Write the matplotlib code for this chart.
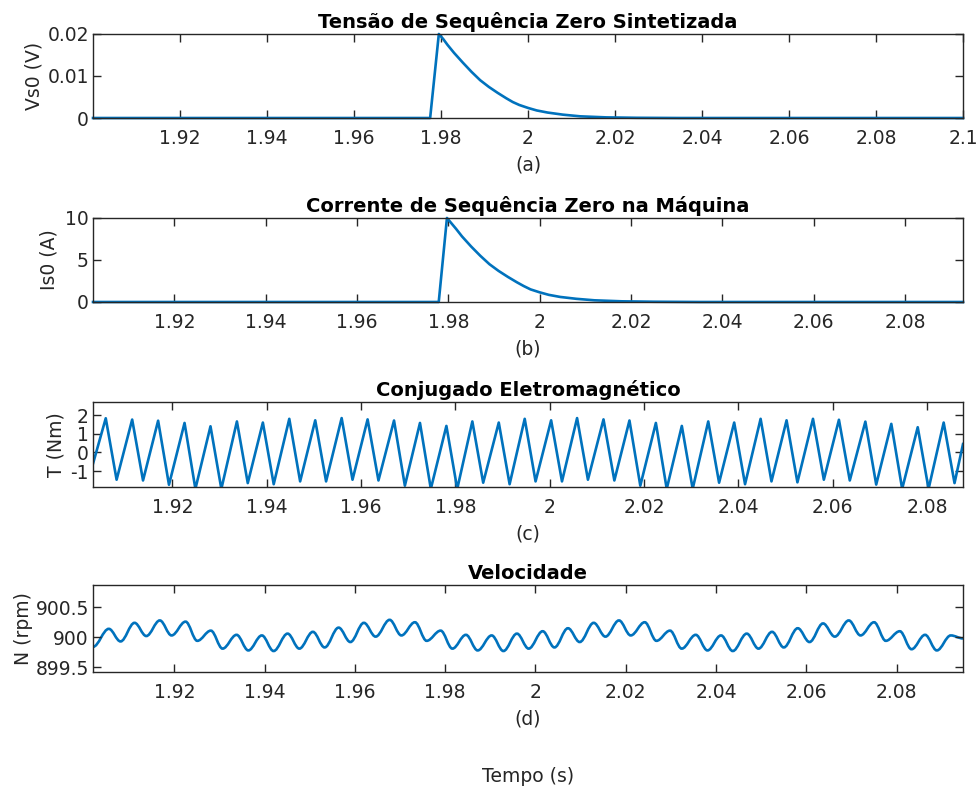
import numpy as np
import matplotlib
matplotlib.use('Agg')
import matplotlib.pyplot as plt
from matplotlib.path import Path
from matplotlib.patches import PathPatch
from matplotlib.ticker import FuncFormatter

# (a) zero-sequence voltage
vs0_t = [1.9, 1.9775, 1.9795, 1.9805, 1.9815, 1.983, 1.985, 1.987, 1.989, 1.991,
         1.993, 1.995, 1.9965, 1.998, 2.0, 2.002, 2.0045, 2.008, 2.012, 2.018,
         2.025, 2.035, 2.05, 2.1]
vs0_v = [0, 0, 0.02, 0.0188, 0.0174, 0.0155, 0.0132, 0.0110, 0.0090, 0.0074,
         0.0060, 0.0047, 0.0038, 0.0031, 0.0024, 0.0018, 0.0013, 0.0008, 0.0004, 0.00015,
         0.00005, 0, 0, 0]

# (b) zero-sequence current
is0_t = [1.9022, 1.9779, 1.9797, 1.9807, 1.9817, 1.983, 1.985, 1.987, 1.989, 1.991,
         1.993, 1.995, 1.9965, 1.998, 2.0, 2.002, 2.0045, 2.008, 2.012, 2.018,
         2.025, 2.035, 2.05, 2.0927]
is0_v = [0, 0, 10, 9.35, 8.7, 7.8, 6.6, 5.5, 4.5, 3.7,
         3.0, 2.35, 1.9, 1.5, 1.15, 0.85, 0.6, 0.38, 0.2, 0.08,
         0.03, 0, 0, 0]

# (c) torque: peaks and troughs of the sawtooth
torque_start = (1.9032, -0.60)
torque_end = (2.0876, 0.45)
torque_peak_t = [1.9059, 1.9115, 1.9170, 1.9226, 1.9281, 1.9337, 1.9392, 1.9448, 1.9503,
                 1.9559, 1.9614, 1.9670, 1.9725, 1.9781, 1.9836, 1.9892, 1.9947, 2.0003,
                 2.0058, 2.0114, 2.0169, 2.0225, 2.0280, 2.0336, 2.0391, 2.0447, 2.0502,
                 2.0558, 2.0613, 2.0669, 2.0724, 2.0780, 2.0835]
torque_peak_v = [1.83, 1.76, 1.70, 1.58, 1.40, 1.66, 1.60, 1.80, 1.72,
                 1.84, 1.77, 1.71, 1.58, 1.42, 1.66, 1.60, 1.80, 1.72,
                 1.84, 1.77, 1.71, 1.58, 1.42, 1.66, 1.60, 1.80, 1.72,
                 1.80, 1.75, 1.65, 1.53, 1.35, 1.60]
torque_trough_t = [1.9082, 1.9138, 1.9193, 1.9249, 1.9304, 1.9360, 1.9415, 1.9471, 1.9526,
                   1.9582, 1.9637, 1.9693, 1.9748, 1.9804, 1.9859, 1.9915, 1.9970, 2.0026,
                   2.0081, 2.0137, 2.0192, 2.0248, 2.0303, 2.0359, 2.0414, 2.0470, 2.0525,
                   2.0581, 2.0636, 2.0692, 2.0747, 2.0803, 2.0858]
torque_trough_v = [-1.46, -1.50, -1.73, -1.95, -1.95, -1.64, -1.70, -1.55, -1.55,
                   -1.46, -1.50, -1.78, -1.95, -1.95, -1.62, -1.70, -1.55, -1.55,
                   -1.46, -1.50, -1.78, -1.95, -1.95, -1.62, -1.70, -1.55, -1.60,
                   -1.46, -1.50, -1.72, -1.95, -1.95, -1.64]

# (d) speed: ripple maxima and minima
speed_start = (1.9020, 899.84)
speed_end = (2.0947, 899.98)
speed_peak_t = [1.9055, 1.9112, 1.9168, 1.9225, 1.9281, 1.9338, 1.9394, 1.9451, 1.9507,
                1.9564, 1.9620, 1.9677, 1.9733, 1.9790, 1.9846, 1.9903, 1.9959, 2.0016,
                2.0072, 2.0129, 2.0185, 2.0242, 2.0298, 2.0355, 2.0411, 2.0468, 2.0524,
                2.0581, 2.0637, 2.0694, 2.0750, 2.0807, 2.0863, 2.0920]
speed_peak_v = [900.14, 900.24, 900.28, 900.26, 900.11, 900.04, 900.03, 900.06, 900.09,
                900.16, 900.24, 900.29, 900.25, 900.11, 900.04, 900.03, 900.06, 900.10,
                900.15, 900.24, 900.28, 900.25, 900.11, 900.04, 900.03, 900.06, 900.09,
                900.15, 900.23, 900.28, 900.25, 900.10, 900.04, 900.03]
speed_trough_t = [1.9081, 1.9138, 1.9194, 1.9251, 1.9307, 1.9364, 1.9420, 1.9477, 1.9533,
                  1.9590, 1.9646, 1.9703, 1.9759, 1.9816, 1.9872, 1.9929, 1.9985, 2.0042,
                  2.0098, 2.0155, 2.0211, 2.0268, 2.0324, 2.0381, 2.0437, 2.0494, 2.0550,
                  2.0607, 2.0663, 2.0720, 2.0776, 2.0833, 2.0889]
speed_trough_v = [899.93, 900.02, 900.03, 899.94, 899.81, 899.78, 899.77, 899.81, 899.83,
                  899.92, 900.01, 900.03, 899.94, 899.81, 899.78, 899.77, 899.81, 899.83,
                  899.92, 900.01, 900.03, 899.94, 899.81, 899.78, 899.77, 899.81, 899.83,
                  899.92, 900.01, 900.03, 899.94, 899.80, 899.78]

titles = ['Tensão de Sequência Zero Sintetizada', 'Corrente de Sequência Zero na Máquina',
          'Conjugado Eletromagnético', 'Velocidade']
ylabels = ['Vs0 (V)', 'Is0 (A)', 'T (Nm)', 'N (rpm)']
sublabels = ['(a)', '(b)', '(c)', '(d)']
xlims = [(1.9, 2.1), (1.9022, 2.0927), (1.9032, 2.0876), (1.9020, 2.0947)]
ylims = [(0, 0.02), (0, 10), (-1.85, 2.7), (899.42, 900.87)]
yticks = [[0, 0.01, 0.02], [0, 5, 10], [-1, 0, 1, 2], [899.5, 900, 900.5]]
xticks_a = [1.92, 1.94, 1.96, 1.98, 2.0, 2.02, 2.04, 2.06, 2.08, 2.1]
xticks = [1.92, 1.94, 1.96, 1.98, 2.0, 2.02, 2.04, 2.06, 2.08]

blue = '#0072BD'
dark = '#262626'
fs = 13.5
lw = 1.9
ylabel_x = [-0.0564, -0.0391, -0.0311, -0.069]


def interleave(start, pk_t, pk_v, tr_t, tr_v, end):
    n = len(pk_t) + len(tr_t)
    t = np.empty(n)
    v = np.empty(n)
    t[0::2] = pk_t
    t[1::2] = tr_t
    v[0::2] = pk_v
    v[1::2] = tr_v
    t = np.concatenate([[start[0]], t, [end[0]]])
    v = np.concatenate([[start[1]], v, [end[1]]])
    return t, v


def smooth_path(x, y, k=0.36):
    # cubic bezier through the extrema, flat tangents at each one
    verts = [(x[0], y[0])]
    codes = [Path.MOVETO]
    for i in range(1, len(x)):
        dx = x[i] - x[i - 1]
        verts += [(x[i - 1] + k * dx, y[i - 1]), (x[i] - k * dx, y[i]), (x[i], y[i])]
        codes += [Path.CURVE4] * 3
    return Path(verts, codes)


fig = plt.figure(figsize=(9.76, 7.92), dpi=100)
rects = [[0.0953, 0.8510, 0.8914, 0.1061],
         [0.0953, 0.6187, 0.8914, 0.1061],
         [0.0953, 0.3851, 0.8914, 0.1073],
         [0.0953, 0.1515, 0.8914, 0.1098]]
axes = [fig.add_axes(r) for r in rects]

axes[0].plot(vs0_t, vs0_v, color=blue, lw=lw, clip_on=False)
axes[1].plot(is0_t, is0_v, color=blue, lw=lw, clip_on=False)
tq_t, tq_v = interleave(torque_start, torque_peak_t, torque_peak_v,
                        torque_trough_t, torque_trough_v, torque_end)
axes[2].plot(tq_t, tq_v, color=blue, lw=lw)
sp_t, sp_v = interleave(speed_start, speed_peak_t, speed_peak_v,
                        speed_trough_t, speed_trough_v, speed_end)
axes[3].add_patch(PathPatch(smooth_path(sp_t, sp_v), facecolor='none',
                            edgecolor=blue, lw=lw))

fmt = FuncFormatter(lambda v, p: '%g' % v)
for i, ax in enumerate(axes):
    ax.set_xlim(*xlims[i])
    ax.set_ylim(*ylims[i])
    ax.set_xticks(xticks_a if i == 0 else xticks)
    ax.set_yticks(yticks[i])
    ax.xaxis.set_major_formatter(fmt)
    ax.yaxis.set_major_formatter(fmt)
    ax.tick_params(direction='in', top=True, right=True, length=6, width=1,
                   color=dark, labelcolor=dark, labelsize=fs)
    ax.tick_params(axis='x', pad=8)
    ax.tick_params(axis='y', pad=3)
    for s in ax.spines.values():
        s.set_color(dark)
        s.set_linewidth(1.0)
    ax.set_title(titles[i], fontsize=14, fontweight='bold', pad=4)
    ax.set_xlabel(sublabels[i], fontsize=fs, color=dark, labelpad=5)
    ax.set_ylabel(ylabels[i], fontsize=fs, color=dark)
    ax.yaxis.set_label_coords(ylabel_x[i], 0.5)

fig.text(0.541, 1 - 777 / 792, 'Tempo (s)', ha='center', va='center', fontsize=fs, color=dark)

fig.savefig('out.png', dpi=100)
